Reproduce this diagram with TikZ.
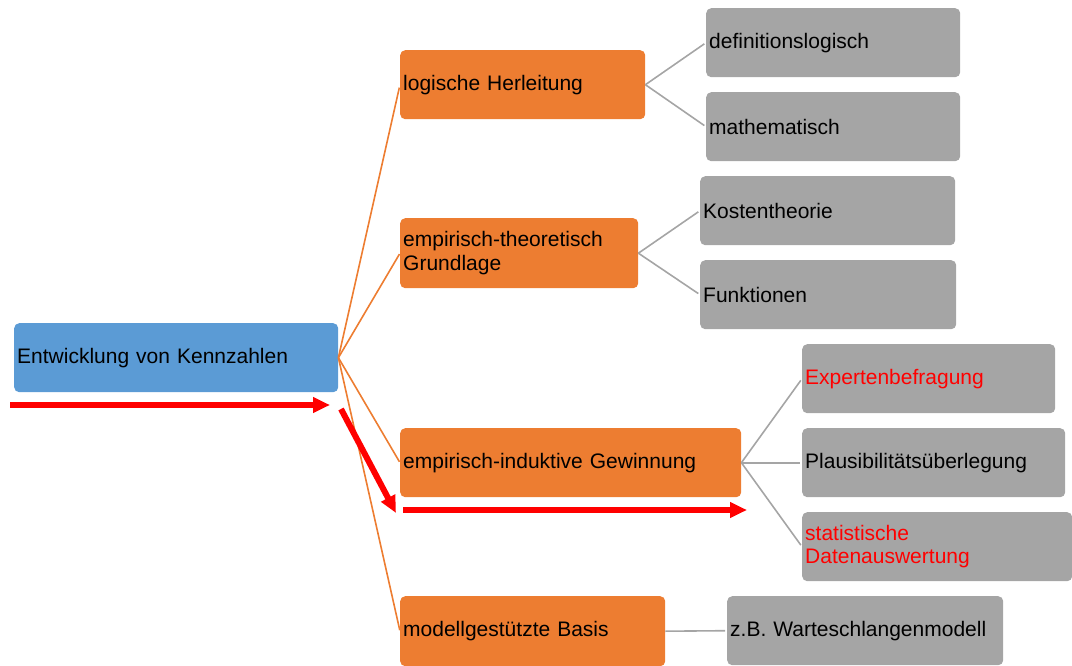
\documentclass[tikz,border=0pt]{standalone}
\usepackage{fontspec}
\setmainfont{Liberation Sans}
\usetikzlibrary{arrows.meta}
\definecolor{cblue}{HTML}{5B9BD5}
\definecolor{corange}{HTML}{ED7D31}
\definecolor{cgray}{HTML}{A5A5A5}
\definecolor{cred}{HTML}{FF0000}
\tikzset{
  basebox/.style={rounded corners=5pt, anchor=north west, inner xsep=3pt, inner ysep=0pt, align=left, font=\fontsize{21}{23.5}\selectfont},
  bbox/.style={basebox, fill=cblue},
  obox/.style={basebox, fill=corange},
  gbox/.style={basebox, fill=cgray},
  oline/.style={draw=corange, line width=1.6pt},
  gline/.style={draw=cgray, line width=1.6pt},
  redarrow/.style={draw=cred, line width=6pt, -{Triangle[length=17pt,width=15pt]}},
}
\newcommand{\bx}[3]{minimum width=#1pt, text width=#2pt, minimum height=#3pt}
\begin{document}
\begin{tikzpicture}[x=1pt,y=-1pt]
\useasboundingbox (0,0) rectangle (1072,666);
% root
\node[bbox, minimum width=324pt, text width=318pt, minimum height=69pt] (root) at (14,323) {Entwicklung von Kennzahlen};
% level 1
\node[obox, minimum width=245pt, text width=239pt, minimum height=69pt] (l1) at (400,50) {logische Herleitung};
\node[obox, minimum width=238pt, text width=232pt, minimum height=70pt] (l2) at (400,218) {empirisch-theoretisch\\Grundlage};
\node[obox, minimum width=341pt, text width=335pt, minimum height=69pt] (l3) at (400,428) {empirisch-induktive Gewinnung};
\node[obox, minimum width=265pt, text width=259pt, minimum height=70pt] (l4) at (400,596) {modellgestützte Basis};
% level 2
\node[gbox, minimum width=254pt, text width=248pt, minimum height=69pt] (g1) at (706,8) {definitionslogisch};
\node[gbox, minimum width=254pt, text width=248pt, minimum height=69pt] (g2) at (706,92) {mathematisch};
\node[gbox, minimum width=255pt, text width=249pt, minimum height=69pt] (g3) at (700,176) {Kostentheorie};
\node[gbox, minimum width=256pt, text width=250pt, minimum height=69pt] (g4) at (700,260) {Funktionen};
\node[gbox, minimum width=253pt, text width=247pt, minimum height=69pt, text=cred] (g5) at (802,344) {Expertenbefragung};
\node[gbox, minimum width=263pt, text width=257pt, minimum height=69pt] (g6) at (802,428) {Plausibilitätsüberlegung};
\node[gbox, minimum width=270pt, text width=264pt, minimum height=69pt, text=cred] (g7) at (802,512) {statistische\\Datenauswertung};
\node[gbox, minimum width=276pt, text width=270pt, minimum height=69pt] (g8) at (727,596) {z.B. Warteschlangenmodell};
% connectors level 1
\draw[oline, shorten >=3pt] (root.east) -- (l1.west);
\draw[oline, shorten >=1pt] (root.east) -- (l2.west);
\draw[oline, shorten >=1pt] (root.east) -- (l3.west);
\draw[oline, shorten >=1pt] (root.east) -- (l4.west);
% connectors level 2
\draw[gline, shorten >=2pt] (l1.east) -- (g1.west);
\draw[gline, shorten >=2pt] (l1.east) -- (g2.west);
\draw[gline, shorten >=2pt] (l2.east) -- (g3.west);
\draw[gline, shorten >=2pt] (l2.east) -- (g4.west);
\draw[gline, shorten >=2pt] (l3.east) -- (g5.west);
\draw[gline, shorten >=2pt] (l3.east) -- (g6.west);
\draw[gline, shorten >=2pt] (l3.east) -- (g7.west);
\draw[gline, shorten >=2pt] (l4.east) -- (g8.west);
% red arrows
\coordinate (a1s) at (10,405);
\coordinate (a1e) at (330,405);
\coordinate (a2s) at (341,409);
\coordinate (a2e) at (396,513);
\coordinate (a3s) at (403,510);
\coordinate (a3e) at (747,510);
\draw[redarrow] (a1s) -- (a1e);
\draw[redarrow] (a2s) -- (a2e);
\draw[redarrow] (a3s) -- (a3e);
\end{tikzpicture}
\end{document}
